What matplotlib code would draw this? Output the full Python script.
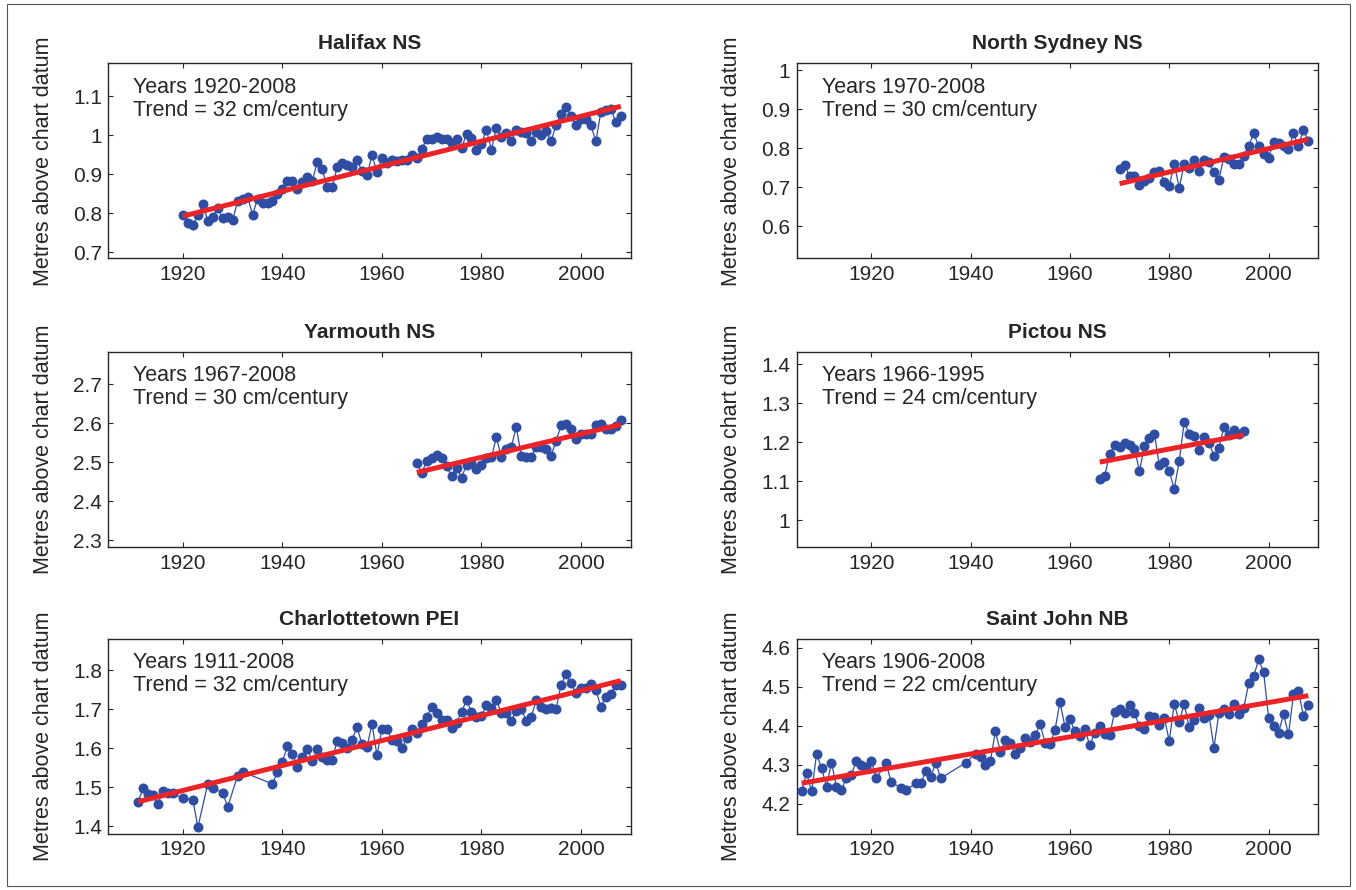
import numpy as np
import matplotlib
matplotlib.use('Agg')
import matplotlib.pyplot as plt
from matplotlib.patches import Rectangle
from matplotlib.ticker import FuncFormatter

plt.rcParams['font.family'] = ['Liberation Sans', 'DejaVu Sans']

# Annual mean water levels (m above chart datum)
halifax_years = list(range(1920, 2009))
halifax_levels = [
    0.796, 0.775, 0.770, 0.796, 0.824, 0.781, 0.792, 0.813, 0.788, 0.792,
    0.783, 0.832, 0.837, 0.843, 0.796, 0.838, 0.827, 0.827, 0.831, 0.849,
    0.862, 0.883, 0.883, 0.862, 0.881, 0.894, 0.883, 0.932, 0.913, 0.867,
    0.867, 0.919, 0.929, 0.924, 0.920, 0.936, 0.909, 0.898, 0.949, 0.907,
    0.941, 0.929, 0.937, 0.934, 0.937, 0.937, 0.950, 0.943, 0.964, 0.992,
    0.990, 0.997, 0.992, 0.992, 0.980, 0.990, 0.967, 1.004, 0.994, 0.963,
    0.979, 1.015, 0.963, 1.020, 0.996, 1.007, 0.985, 1.013, 1.008, 1.007,
    0.985, 1.008, 1.000, 1.011, 0.985, 1.027, 1.055, 1.072, 1.051, 1.026,
    1.041, 1.041, 1.026, 0.985, 1.060, 1.064, 1.069, 1.034, 1.051,
]

north_sydney_years = list(range(1970, 2009))
north_sydney_levels = [
    0.747, 0.756, 0.730, 0.730, 0.707, 0.716, 0.724, 0.738, 0.743, 0.713,
    0.703, 0.760, 0.699, 0.759, 0.749, 0.769, 0.743, 0.770, 0.764, 0.738,
    0.720, 0.779, 0.772, 0.759, 0.759, 0.781, 0.807, 0.838, 0.806, 0.786,
    0.776, 0.817, 0.813, 0.806, 0.797, 0.838, 0.807, 0.848, 0.819,
]

yarmouth_years = list(range(1967, 2009))
yarmouth_levels = [
    2.497, 2.472, 2.503,
    2.510, 2.517, 2.510, 2.489, 2.464, 2.485, 2.460, 2.493, 2.497, 2.481,
    2.493, 2.510, 2.512, 2.563, 2.514, 2.534, 2.539, 2.590, 2.516, 2.512,
    2.512, 2.539, 2.539, 2.534, 2.516, 2.554, 2.594, 2.598, 2.584, 2.559,
    2.571, 2.571, 2.571, 2.594, 2.598, 2.584, 2.586, 2.592, 2.607,
]

pictou_years = list(range(1966, 1996))
pictou_levels = [
    1.105, 1.114, 1.169, 1.194, 1.188, 1.199, 1.192, 1.183, 1.126, 1.189,
    1.211, 1.222, 1.141, 1.148, 1.126, 1.080, 1.151, 1.251, 1.222, 1.217,
    1.181, 1.213, 1.199, 1.164, 1.185, 1.239, 1.219, 1.232, 1.222, 1.229,
]

charlottetown_years = (
    [1911, 1912, 1913, 1914, 1915, 1916, 1917, 1918, 1920, 1922, 1923,
     1925, 1926, 1928, 1929, 1931, 1932] + list(range(1938, 2009))
)
charlottetown_levels = [
    1.462, 1.498, 1.482, 1.479, 1.456, 1.491, 1.485, 1.484, 1.471, 1.468, 1.397,
    1.509, 1.498, 1.485, 1.450, 1.529, 1.539,
    1.508, 1.539, 1.565, 1.605, 1.586, 1.552, 1.576, 1.597, 1.567, 1.597,
    1.578, 1.569, 1.569, 1.619, 1.614, 1.599, 1.622, 1.653, 1.610, 1.603,
    1.662, 1.582, 1.648, 1.648, 1.621, 1.617, 1.599, 1.625, 1.648, 1.639,
    1.661, 1.679, 1.706, 1.689, 1.672, 1.672, 1.652, 1.665, 1.692, 1.723,
    1.693, 1.679, 1.682, 1.710, 1.703, 1.723, 1.691, 1.691, 1.670, 1.696,
    1.701, 1.670, 1.679, 1.723, 1.706, 1.700, 1.704, 1.700, 1.763, 1.789,
    1.766, 1.740, 1.755, 1.755, 1.764, 1.749, 1.706, 1.732, 1.738, 1.763,
    1.763,
]

saint_john_years = (
    list(range(1906, 1922)) + [1923, 1924, 1926, 1927] + list(range(1929, 1935))
    + [1939] + list(range(1941, 2009))
)
saint_john_levels = [
    4.232, 4.279, 4.232, 4.328, 4.292, 4.244, 4.306, 4.244, 4.236, 4.266,
    4.274, 4.311, 4.300, 4.294, 4.311, 4.266,
    4.304, 4.257, 4.240, 4.236,
    4.253, 4.253, 4.285, 4.270, 4.305, 4.266,
    4.305,
    4.329, 4.319, 4.300, 4.311, 4.386, 4.334, 4.363, 4.357, 4.328,
    4.343, 4.369, 4.359, 4.377, 4.404, 4.357, 4.353, 4.390, 4.461, 4.398,
    4.417, 4.386, 4.374, 4.391, 4.350, 4.382, 4.399, 4.380, 4.376, 4.436,
    4.444, 4.434, 4.453, 4.432, 4.399, 4.391, 4.426, 4.423, 4.403, 4.421,
    4.361, 4.457, 4.410, 4.457, 4.396, 4.415, 4.447, 4.421, 4.427, 4.344,
    4.434, 4.444, 4.430, 4.457, 4.430, 4.447, 4.510, 4.527, 4.571, 4.537,
    4.421, 4.400, 4.382, 4.430, 4.378, 4.481, 4.489, 4.426, 4.453,
]

stations = ['Halifax NS', 'North Sydney NS', 'Yarmouth NS',
            'Pictou NS', 'Charlottetown PEI', 'Saint John NB']
station_years = [halifax_years, north_sydney_years, yarmouth_years,
                 pictou_years, charlottetown_years, saint_john_years]
station_levels = [halifax_levels, north_sydney_levels, yarmouth_levels,
                  pictou_levels, charlottetown_levels, saint_john_levels]
trend_cm_per_century = [32, 30, 30, 24, 32, 22]
y_limits = [(0.685, 1.185), (0.518, 1.018), (2.283, 2.783),
            (0.932, 1.432), (1.381, 1.881), (4.124, 4.624)]
y_ticks = [[0.7, 0.8, 0.9, 1.0, 1.1], [0.6, 0.7, 0.8, 0.9, 1.0],
           [2.3, 2.4, 2.5, 2.6, 2.7], [1.0, 1.1, 1.2, 1.3, 1.4],
           [1.4, 1.5, 1.6, 1.7, 1.8], [4.2, 4.3, 4.4, 4.5, 4.6]]
x_ticks = [1920, 1940, 1960, 1980, 2000]

W, H = 1356, 890
fig = plt.figure(figsize=(W / 100, H / 100), dpi=100)
fig.patch.set_facecolor('white')
fig.add_artist(Rectangle((7 / W, 4 / H), 1343 / W, 882 / H, transform=fig.transFigure,
                         fill=False, edgecolor='#555555', linewidth=0.8))

col_left = [108.3, 796.7]
col_width = [522.4, 521.6]
row_bottom = [258.3, 546.7, 833.5]
ax_height = 195.0

DOT_BLUE = '#2f4ea3'
TREND_RED = '#ec2427'
INK = '#262626'

for i, name in enumerate(stations):
    r, c = divmod(i, 2)
    ax = fig.add_axes([col_left[c] / W, 1 - row_bottom[r] / H,
                       col_width[c] / W, ax_height / H])
    yrs = np.array(station_years[i], dtype=float)
    lev = np.array(station_levels[i])

    ax.plot(yrs, lev, '-', color=DOT_BLUE, linewidth=0.9, zorder=2)
    ax.plot(yrs, lev, 'o', color=DOT_BLUE, markersize=7.2,
            markeredgewidth=0, zorder=3)

    # trend line with the quoted rate, through the mean of the series
    rate = trend_cm_per_century[i] / 100.0 / 100.0
    t = np.array([yrs.min(), yrs.max()])
    ax.plot(t, lev.mean() + rate * (t - yrs.mean()), color=TREND_RED,
            linewidth=3.6, solid_capstyle='butt', zorder=4)

    ax.set_xlim(1905, 2010)
    ax.set_ylim(*y_limits[i])
    ax.set_xticks(x_ticks)
    ax.set_yticks(y_ticks[i])
    ax.yaxis.set_major_formatter(FuncFormatter(lambda v, p: f'{round(v, 2):g}'))
    ax.tick_params(direction='in', top=True, right=True, length=3.6, width=0.8,
                   color=INK, labelsize=15, labelcolor=INK)
    ax.tick_params(axis='y', pad=4.5)
    ax.tick_params(axis='x', pad=5)
    for sp in ax.spines.values():
        sp.set_color(INK)
        sp.set_linewidth(1.0)

    ax.set_title(name, fontsize=15, fontweight='bold', color=INK, pad=10)
    ax.set_ylabel('Metres above chart datum', fontsize=15.5, color=INK)
    ax.yaxis.set_label_coords(-0.104, 0.5)
    ax.text(0.048, 0.93,
            f'Years {int(yrs.min())}-{int(yrs.max())}\n'
            f'Trend = {trend_cm_per_century[i]} cm/century',
            transform=ax.transAxes, ha='left', va='top', fontsize=15.5,
            color=INK, linespacing=1.1)

fig.savefig('out.png', dpi=100, facecolor='white')
